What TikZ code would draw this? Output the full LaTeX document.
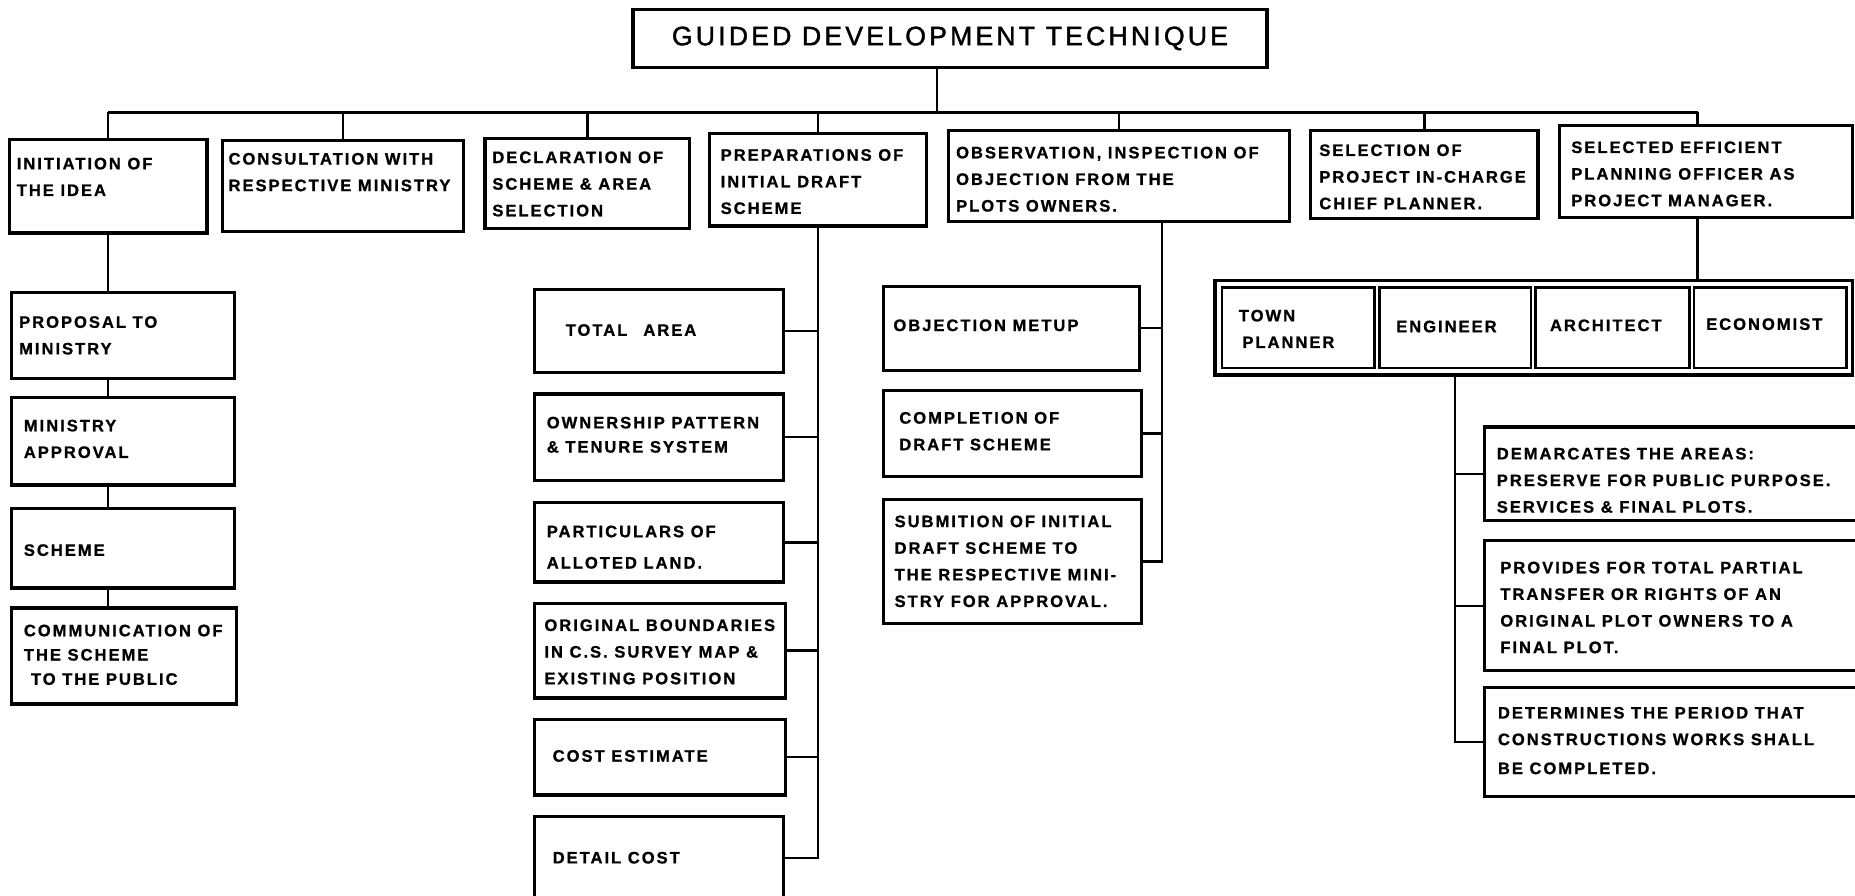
\documentclass[tikz,border=0pt]{standalone}
\usepackage{fontspec}
\newfontfamily\lblfont{Liberation Sans}[LetterSpace=12,FakeBold=1]
\newfontfamily\ttlfont{Liberation Sans}[LetterSpace=12,FakeBold=1.5]
\usetikzlibrary{calc}
\newcommand\bx[5]{\node[box, minimum width={(#4)-(#2)}, minimum height={(#5)-(#3)}] (#1) at (#2,#3) {};}
\newcommand\tx[4]{\node[txt] (#1) at (#2,#3) {#4};}
\begin{document}
\begin{tikzpicture}[x=1pt,y=-1pt,
  box/.style={draw, line width=2.7pt, inner sep=0pt, outer sep=0pt, anchor=north west},
  txt/.style={font=\lblfont\bfseries\fontsize{14}{22.5}\selectfont, align=left, inner sep=0pt, anchor=west},
  link/.style={line width=2pt}]
\useasboundingbox[fill=white] (0,0) rectangle (1568,757);

% title
\node[box, line width=3pt, minimum width=536, minimum height=49,
      font=\ttlfont\fontsize{22.5}{26}\selectfont] (title) at (535,8) {GUIDED DEVELOPMENT TECHNIQUE};

% level 1
\bx{init}{8}{118}{175}{197}
\bx{cons}{188}{119}{392}{196}
\bx{decl}{410}{117}{583}{193}
\bx{prep}{600}{113}{783}{191}
\bx{obs}{802}{110}{1090}{187}
\bx{sel}{1108}{110}{1300}{185}
\bx{mgr}{1318}{106}{1566}{184}

\tx{tinit}{14}{149.5}{INITIATION OF\\THE IDEA}
\tx{tcons}{193}{145.5}{CONSULTATION WITH\\RESPECTIVE MINISTRY}
\tx{tdecl}{416}{155.5}{DECLARATION OF\\SCHEME \& AREA\\SELECTION}
\tx{tprep}{609}{153.5}{PREPARATIONS OF\\INITIAL DRAFT\\SCHEME}
\tx{tobs}{808}{151.5}{OBSERVATION, INSPECTION OF\\OBJECTION FROM THE\\PLOTS OWNERS.}
\tx{tsel}{1115}{149.5}{SELECTION OF\\PROJECT IN-CHARGE\\CHIEF PLANNER.}
\tx{tmgr}{1328}{147}{SELECTED EFFICIENT\\PLANNING OFFICER AS\\PROJECT MANAGER.}

% left column
\bx{prop}{10}{247}{198}{320}
\bx{appr}{10}{336}{198}{410}
\bx{schm}{10}{430}{198}{497}
\bx{comm}{10}{514}{200}{595}
\tx{tprop}{16}{283.5}{PROPOSAL TO\\MINISTRY}
\tx{tappr}{20}{371}{MINISTRY\\APPROVAL}
\tx{tschm}{20}{465}{SCHEME}
\tx{tcomm}{20}{553.5}{COMMUNICATION OF\\[-2pt]THE SCHEME\\[-2pt]\hspace{6pt}TO THE PUBLIC}

% preparation column
\bx{total}{452}{245}{662}{315}
\bx{own}{452}{333}{662}{406}
\bx{part}{452}{425}{662}{492}
\bx{orig}{452}{510}{664}{590}
\bx{cost}{452}{608}{664}{672}
\bx{detl}{452}{690}{662}{760}
\tx{ttotal}{478}{279}{TOTAL\hspace{8pt} AREA}
\tx{town}{462}{367.5}{OWNERSHIP PATTERN\\[-2pt]\& TENURE SYSTEM}
\tx{tpart}{462}{462.5}{PARTICULARS OF\\[4pt]ALLOTED LAND.}
\tx{torig}{460}{551}{ORIGINAL BOUNDARIES\\IN C.S. SURVEY MAP \&\\EXISTING POSITION}
\tx{tcost}{467}{639}{COST ESTIMATE}
\tx{tdetl}{467}{725}{DETAIL COST}

% observation column
\bx{objm}{747}{242}{963}{313}
\bx{cmpl}{747}{330}{965}{403}
\bx{subm}{747}{422}{965}{527}
\tx{tobjm}{755}{275}{OBJECTION METUP}
\tx{tcmpl}{760}{364.5}{COMPLETION OF\\DRAFT SCHEME}
\tx{tsubm}{756}{474.5}{SUBMITION OF INITIAL\\DRAFT SCHEME TO\\THE RESPECTIVE MINI-\\STRY FOR APPROVAL.}

% team
\bx{team}{1027}{237}{1566}{317}
\node[box, line width=2.2pt, minimum width=129, minimum height=68] (town) at (1033,243) {};
\node[box, line width=2.2pt, minimum width=128, minimum height=68] (eng) at (1166,243) {};
\node[box, line width=2.2pt, minimum width=130, minimum height=68] (arch) at (1298,243) {};
\node[box, line width=2.2pt, minimum width=129, minimum height=68] (econ) at (1432,243) {};
\tx{ttown}{1047}{278}{TOWN\\\hspace{3pt}PLANNER}
\tx{teng}{1180}{276}{ENGINEER}
\tx{tarch}{1310}{275}{ARCHITECT}
\tx{tecon}{1442}{274}{ECONOMIST}

% engineer column
\bx{dem}{1255}{361}{1580}{440}
\bx{prov}{1255}{457}{1580}{567}
\bx{det}{1255}{581}{1580}{673}
\tx{tdem}{1265}{406}{DEMARCATES THE AREAS:\\PRESERVE FOR PUBLIC PURPOSE.\\SERVICES \& FINAL PLOTS.}
\tx{tprov}{1268}{513.5}{PROVIDES FOR TOTAL PARTIAL\\TRANSFER OR RIGHTS OF AN\\ORIGINAL PLOT OWNERS TO A\\FINAL PLOT.}
\tx{tdet}{1266}{626}{DETERMINES THE PERIOD THAT\\CONSTRUCTIONS WORKS SHALL\\[2pt]BE COMPLETED.}

% connectors
\coordinate (busy) at (0,95);
\coordinate (ttld) at ([xshift=-11pt]title.south);
\coordinate (mgrd) at ([xshift=-7pt]mgr.north);
\coordinate (obsd) at ([xshift=36pt]obs.south);
\draw[link] (ttld) -- (ttld |- busy);
\draw[link] (init.north |- busy) -- (mgrd |- busy);
\foreach \n in {init,cons,decl,prep,obs,sel}
  \draw[link] (\n.north) -- (\n.north |- busy);
\draw[link] (mgrd) -- (mgrd |- busy);

% left column links
\draw[link] (init.south) -- (init.south |- prop.north);
\draw[link] (init.south |- prop.south) -- (init.south |- appr.north);
\draw[link] (init.south |- appr.south) -- (init.south |- schm.north);
\draw[link] (init.south |- schm.south) -- (init.south |- comm.north);

% preparation links
\draw[link] (prep.south) |- (detl.east);
\foreach \n in {total,own,part,orig,cost}
  \draw[link] (\n.east) -- (\n.east -| prep.south);

% observation links
\draw[link] (obsd) |- (subm.east);
\foreach \n in {objm,cmpl}
  \draw[link] (\n.east) -- (\n.east -| obsd);

% manager to team
\draw[link] (mgrd |- mgr.south) -- (mgrd |- team.north);

% engineer links
\draw[link] (eng.south |- team.south) |- (det.west);
\foreach \n in {dem,prov}
  \draw[link] (\n.west) -- (\n.west -| eng.south);
\end{tikzpicture}
\end{document}
